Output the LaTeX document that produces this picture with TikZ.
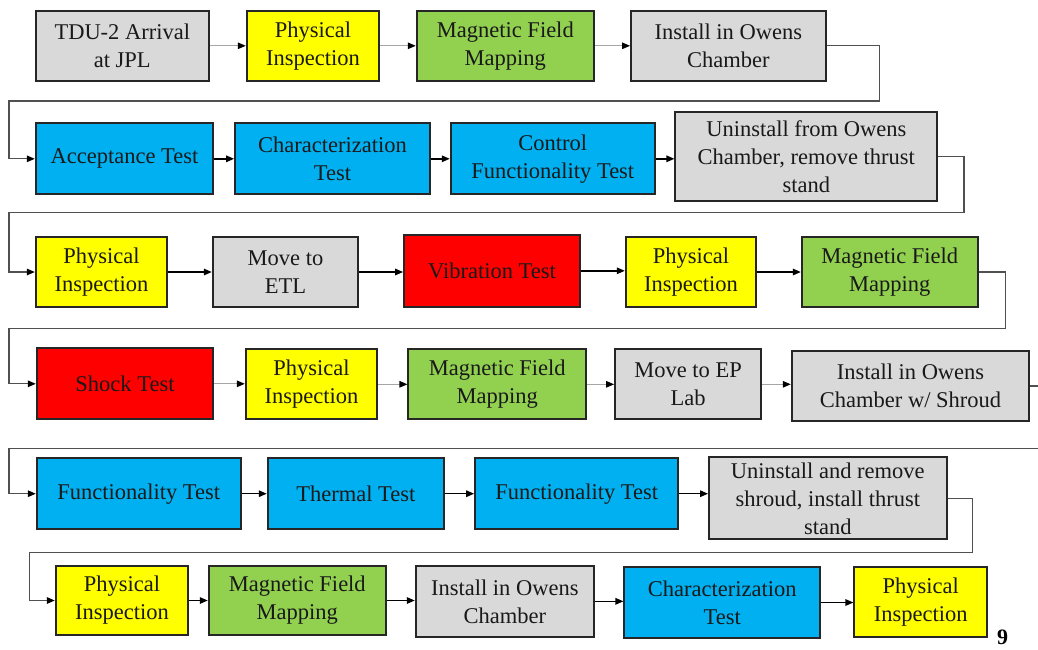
\documentclass[tikz,border=0pt]{standalone}
\usepackage{fontspec}
\setmainfont{LiberationSerif}[Extension=.ttf, UprightFont=*-Regular, BoldFont=*-Bold, ItalicFont=*-Italic, BoldItalicFont=*-BoldItalic]
\usetikzlibrary{arrows.meta}
\definecolor{cgray}{HTML}{D9D9D9}
\definecolor{cyel}{HTML}{FFFF00}
\definecolor{cgrn}{HTML}{92D050}
\definecolor{cblu}{HTML}{00B0F0}
\definecolor{cred}{HTML}{FF0000}
\definecolor{lgray}{HTML}{A6A6A6}
\definecolor{dgray}{HTML}{505050}
\tikzset{
  box/.style={draw=black!85, line width=1.8pt, inner sep=0pt, align=center,
    font=\rmfamily\fontsize{22.5}{28}\selectfont, text=black!90},
  gbox/.style={box, fill=cgray},
  ybox/.style={box, fill=cyel},
  grbox/.style={box, fill=cgrn},
  bbox/.style={box, fill=cblu},
  rbox/.style={box, fill=cred},
  sz/.style 2 args={minimum width=#1pt, minimum height=#2pt},
  arr/.style={line width=1.4pt, black, -{Triangle[length=8pt,width=6.5pt]}},
  garr/.style={line width=1.2pt, lgray, -{Triangle[length=8pt,width=6.5pt,color=black]}},
  conn/.style={line width=1.3pt, dgray, -{Triangle[length=8pt,width=6.5pt,color=black]}},
}
\begin{document}
\begin{tikzpicture}[x=1pt,y=-1pt]
\useasboundingbox (0,0) rectangle (1038,649);
\clip (0,0) rectangle (1038,649);
% Row 1
\node[gbox, sz={173.3}{70.3}] (a1) at (122.3,45.8) {TDU-2 Arrival\\at JPL};
\node[ybox, sz={132.6}{70.3}] (a2) at (313,45.8) {Physical\\Inspection};
\node[grbox, sz={177.3}{70.3}] (a3) at (505.3,45.8) {Magnetic Field\\Mapping};
\node[gbox, sz={194.7}{70.3}] (a4) at (728.3,45.8) {Install in Owens\\Chamber};
% Row 2
\node[bbox, sz={177.6}{71}] (b1) at (124.5,158.8) {Acceptance Test};
\node[bbox, sz={195}{71}] (b2) at (332.5,158.8) {Characterization\\Test};
\node[bbox, sz={204.3}{71}] (b3) at (552.8,158.8) {Control\\Functionality Test};
\node[gbox, sz={262}{88.7}] (b4) at (806.3,156.3) {Uninstall from Owens\\Chamber, remove thrust\\stand};
% Row 3
\node[ybox, sz={131.6}{69.4}] (c1) at (101.5,272) {Physical\\Inspection};
\node[gbox, sz={145.6}{69.4}] (c2) at (285.5,272) {Move to\\ETL};
\node[rbox, sz={176}{71.7}] (c3) at (492,270.8) {Vibration Test};
\node[ybox, sz={130.6}{69.4}] (c4) at (691,272) {Physical\\Inspection};
\node[grbox, sz={176}{69.4}] (c5) at (889.7,272) {Magnetic Field\\Mapping};
% Row 4
\node[rbox, sz={176.6}{71}] (d1) at (125,383.8) {Shock Test};
\node[ybox, sz={131.6}{70}] (d2) at (311.5,384.3) {Physical\\Inspection};
\node[grbox, sz={177.7}{70}] (d3) at (497.2,384.3) {Magnetic Field\\Mapping};
\node[gbox, sz={146}{70}] (d4) at (688,384.3) {Move to EP\\Lab};
\node[gbox, sz={237.6}{70}] (d5) at (910.5,386) {Install in Owens\\Chamber w/ Shroud};
% Row 5
\node[bbox, sz={204}{70.7}] (e1) at (138.7,493.7) {Functionality Test};
\node[bbox, sz={176.3}{70.7}] (e2) at (355.8,493.7) {Thermal Test};
\node[bbox, sz={203.3}{70.7}] (e3) at (576.7,493.7) {Functionality Test};
\node[gbox, sz={237.7}{82}] (e4) at (827.8,498.3) {Uninstall and remove\\shroud, install thrust\\stand};
% Row 6
\node[ybox, sz={132.6}{69}] (f1) at (122,600.5) {Physical\\Inspection};
\node[grbox, sz={177.3}{69}] (f2) at (297.3,600.5) {Magnetic Field\\Mapping};
\node[gbox, sz={178.3}{70.7}] (f3) at (504.8,601.3) {Install in Owens\\Chamber};
\node[bbox, sz={195.7}{70.4}] (f4) at (722.2,602.5) {Characterization\\Test};
\node[ybox, sz={133}{69.4}] (f5) at (920.8,602) {Physical\\Inspection};
\node[font=\rmfamily\fontsize{22}{26}\selectfont\bfseries, inner sep=0pt] (pg) at (1002.5,637.5) {9};
% Arrows within rows
\draw[garr] (a1.east) -- (a1.east -| a2.west);
\draw[garr] (a2.east) -- (a2.east -| a3.west);
\draw[garr] (a3.east) -- (a3.east -| a4.west);
\draw[arr] (b1.east) -- (b1.east -| b2.west);
\draw[arr] (b2.east) -- (b2.east -| b3.west);
\draw[arr] (b3.east) -- (b3.east -| b4.west);
\draw[arr] (c1.east) -- (c1.east -| c2.west);
\draw[arr] (c2.east) -- (c2.east -| c3.west);
\draw[arr] (c3.east) -- (c3.east -| c4.west);
\draw[arr] (c4.east) -- (c4.east -| c5.west);
\draw[garr] (d1.east) -- (d1.east -| d2.west);
\draw[garr] (d2.east) -- (d2.east -| d3.west);
\draw[garr] (d3.east) -- (d3.east -| d4.west);
\draw[garr] (d4.east) -- (d4.east -| d5.west);
\draw[arr] (e1.east) -- (e1.east -| e2.west);
\draw[arr] (e2.east) -- (e2.east -| e3.west);
\draw[arr] (e3.east) -- (e3.east -| e4.west);
\draw[arr] (f1.east) -- (f1.east -| f2.west);
\draw[arr] (f2.east) -- (f2.east -| f3.west);
\draw[arr] (f3.east) -- (f3.east -| f4.west);
\draw[arr] (f4.east) -- (f4.east -| f5.west);
% Row-to-row connectors
\coordinate (k1a) at (879.3,101);
\coordinate (k1b) at (9,101);
\draw[conn] (a4.east) -| (k1a) -- (k1b) |- (b1.west);
\coordinate (k2a) at (964,212.3);
\coordinate (k2b) at (9,212.3);
\draw[conn] (b4.east) -| (k2a) -- (k2b) |- (c1.west);
\coordinate (k3a) at (1005.3,328.3);
\coordinate (k3b) at (9,328.3);
\draw[conn] (c5.east) -| (k3a) -- (k3b) |- (d1.west);
\coordinate (k4a) at (1050,448.7);
\coordinate (k4b) at (9,448.7);
\draw[conn] (d5.east) -| (k4a) -- (k4b) |- (e1.west);
\coordinate (k5a) at (972.3,552.7);
\coordinate (k5b) at (29.3,552.7);
\draw[conn] (e4.east) -| (k5a) -- (k5b) |- (f1.west);
\end{tikzpicture}
\end{document}
